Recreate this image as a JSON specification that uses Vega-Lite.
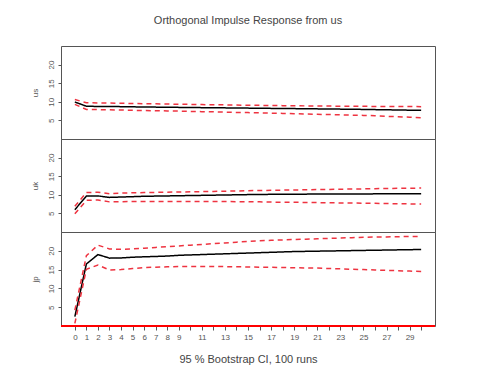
{
  "$schema": "https://vega.github.io/schema/vega-lite/v6.json",
  "padding": {"left": 30, "top": 14, "right": 5, "bottom": 5},
  "spacing": 0,
  "bounds": "flush",
  "background": "white",
  "config": {
    "font": "Liberation Sans",
    "view": {"stroke": "#555555", "strokeWidth": 1},
    "axis": {"grid": false, "domain": false, "tickColor": "#555555", "labelColor": "#555555", "titleColor": "#555555", "labelFont": "Liberation Sans", "titleFont": "Liberation Sans", "titleFontWeight": "normal"}
  },
  "data": {"values": [
    {"v":"us","h":0,"irf":9.95,"lower":9.3,"upper":10.6},
    {"v":"us","h":1,"irf":8.8,"lower":7.95,"upper":9.75},
    {"v":"us","h":2,"irf":8.75,"lower":7.9,"upper":9.7},
    {"v":"us","h":3,"irf":8.72,"lower":7.85,"upper":9.65},
    {"v":"us","h":4,"irf":8.7,"lower":7.8,"upper":9.6},
    {"v":"us","h":5,"irf":8.65,"lower":7.7,"upper":9.55},
    {"v":"us","h":6,"irf":8.6,"lower":7.65,"upper":9.5},
    {"v":"us","h":7,"irf":8.57,"lower":7.6,"upper":9.45},
    {"v":"us","h":8,"irf":8.53,"lower":7.55,"upper":9.4},
    {"v":"us","h":9,"irf":8.5,"lower":7.5,"upper":9.35},
    {"v":"us","h":10,"irf":8.47,"lower":7.42,"upper":9.3},
    {"v":"us","h":11,"irf":8.43,"lower":7.35,"upper":9.25},
    {"v":"us","h":12,"irf":8.4,"lower":7.3,"upper":9.2},
    {"v":"us","h":13,"irf":8.37,"lower":7.22,"upper":9.17},
    {"v":"us","h":14,"irf":8.33,"lower":7.15,"upper":9.12},
    {"v":"us","h":15,"irf":8.3,"lower":7.1,"upper":9.08},
    {"v":"us","h":16,"irf":8.27,"lower":7.02,"upper":9.05},
    {"v":"us","h":17,"irf":8.23,"lower":6.95,"upper":9.0},
    {"v":"us","h":18,"irf":8.2,"lower":6.88,"upper":8.97},
    {"v":"us","h":19,"irf":8.17,"lower":6.8,"upper":8.94},
    {"v":"us","h":20,"irf":8.13,"lower":6.72,"upper":8.9},
    {"v":"us","h":21,"irf":8.1,"lower":6.65,"upper":8.88},
    {"v":"us","h":22,"irf":8.07,"lower":6.57,"upper":8.85},
    {"v":"us","h":23,"irf":8.03,"lower":6.5,"upper":8.82},
    {"v":"us","h":24,"irf":8.0,"lower":6.42,"upper":8.8},
    {"v":"us","h":25,"irf":7.95,"lower":6.35,"upper":8.78},
    {"v":"us","h":26,"irf":7.9,"lower":6.25,"upper":8.76},
    {"v":"us","h":27,"irf":7.85,"lower":6.1,"upper":8.74},
    {"v":"us","h":28,"irf":7.8,"lower":6.0,"upper":8.72},
    {"v":"us","h":29,"irf":7.75,"lower":5.85,"upper":8.71},
    {"v":"us","h":30,"irf":7.7,"lower":5.7,"upper":8.7},
    {"v":"uk","h":0,"irf":6.0,"lower":4.9,"upper":6.9},
    {"v":"uk","h":1,"irf":9.65,"lower":8.5,"upper":10.6},
    {"v":"uk","h":2,"irf":9.7,"lower":8.6,"upper":10.7},
    {"v":"uk","h":3,"irf":9.3,"lower":8.1,"upper":10.3},
    {"v":"uk","h":4,"irf":9.4,"lower":8.15,"upper":10.45},
    {"v":"uk","h":5,"irf":9.5,"lower":8.2,"upper":10.55},
    {"v":"uk","h":6,"irf":9.6,"lower":8.2,"upper":10.6},
    {"v":"uk","h":7,"irf":9.65,"lower":8.2,"upper":10.65},
    {"v":"uk","h":8,"irf":9.7,"lower":8.22,"upper":10.7},
    {"v":"uk","h":9,"irf":9.75,"lower":8.22,"upper":10.75},
    {"v":"uk","h":10,"irf":9.8,"lower":8.22,"upper":10.8},
    {"v":"uk","h":11,"irf":9.85,"lower":8.2,"upper":10.85},
    {"v":"uk","h":12,"irf":9.9,"lower":8.2,"upper":10.9},
    {"v":"uk","h":13,"irf":9.95,"lower":8.18,"upper":10.97},
    {"v":"uk","h":14,"irf":10.0,"lower":8.15,"upper":11.03},
    {"v":"uk","h":15,"irf":10.05,"lower":8.12,"upper":11.1},
    {"v":"uk","h":16,"irf":10.1,"lower":8.1,"upper":11.15},
    {"v":"uk","h":17,"irf":10.12,"lower":8.05,"upper":11.2},
    {"v":"uk","h":18,"irf":10.14,"lower":8.0,"upper":11.25},
    {"v":"uk","h":19,"irf":10.16,"lower":7.98,"upper":11.3},
    {"v":"uk","h":20,"irf":10.18,"lower":7.95,"upper":11.35},
    {"v":"uk","h":21,"irf":10.2,"lower":7.9,"upper":11.4},
    {"v":"uk","h":22,"irf":10.21,"lower":7.85,"upper":11.45},
    {"v":"uk","h":23,"irf":10.22,"lower":7.82,"upper":11.5},
    {"v":"uk","h":24,"irf":10.23,"lower":7.8,"upper":11.55},
    {"v":"uk","h":25,"irf":10.24,"lower":7.75,"upper":11.6},
    {"v":"uk","h":26,"irf":10.25,"lower":7.7,"upper":11.65},
    {"v":"uk","h":27,"irf":10.26,"lower":7.65,"upper":11.7},
    {"v":"uk","h":28,"irf":10.27,"lower":7.6,"upper":11.73},
    {"v":"uk","h":29,"irf":10.28,"lower":7.55,"upper":11.77},
    {"v":"uk","h":30,"irf":10.3,"lower":7.5,"upper":11.8},
    {"v":"jp","h":0,"irf":2.5,"lower":0.7,"upper":4.2},
    {"v":"jp","h":1,"irf":16.5,"lower":15.1,"upper":18.7},
    {"v":"jp","h":2,"irf":19.0,"lower":16.2,"upper":21.5},
    {"v":"jp","h":3,"irf":18.05,"lower":14.9,"upper":20.5},
    {"v":"jp","h":4,"irf":18.1,"lower":15.0,"upper":20.4},
    {"v":"jp","h":5,"irf":18.3,"lower":15.3,"upper":20.5},
    {"v":"jp","h":6,"irf":18.4,"lower":15.5,"upper":20.7},
    {"v":"jp","h":7,"irf":18.5,"lower":15.65,"upper":20.9},
    {"v":"jp","h":8,"irf":18.6,"lower":15.75,"upper":21.1},
    {"v":"jp","h":9,"irf":18.8,"lower":15.8,"upper":21.3},
    {"v":"jp","h":10,"irf":18.9,"lower":15.85,"upper":21.5},
    {"v":"jp","h":11,"irf":19.0,"lower":15.85,"upper":21.7},
    {"v":"jp","h":12,"irf":19.1,"lower":15.85,"upper":21.9},
    {"v":"jp","h":13,"irf":19.2,"lower":15.8,"upper":22.1},
    {"v":"jp","h":14,"irf":19.3,"lower":15.75,"upper":22.3},
    {"v":"jp","h":15,"irf":19.4,"lower":15.7,"upper":22.5},
    {"v":"jp","h":16,"irf":19.5,"lower":15.65,"upper":22.65},
    {"v":"jp","h":17,"irf":19.6,"lower":15.6,"upper":22.8},
    {"v":"jp","h":18,"irf":19.7,"lower":15.55,"upper":22.9},
    {"v":"jp","h":19,"irf":19.8,"lower":15.5,"upper":23.0},
    {"v":"jp","h":20,"irf":19.85,"lower":15.45,"upper":23.1},
    {"v":"jp","h":21,"irf":19.9,"lower":15.4,"upper":23.2},
    {"v":"jp","h":22,"irf":19.95,"lower":15.3,"upper":23.3},
    {"v":"jp","h":23,"irf":20.0,"lower":15.2,"upper":23.4},
    {"v":"jp","h":24,"irf":20.05,"lower":15.1,"upper":23.5},
    {"v":"jp","h":25,"irf":20.1,"lower":15.0,"upper":23.6},
    {"v":"jp","h":26,"irf":20.15,"lower":14.9,"upper":23.65},
    {"v":"jp","h":27,"irf":20.2,"lower":14.8,"upper":23.7},
    {"v":"jp","h":28,"irf":20.25,"lower":14.7,"upper":23.75},
    {"v":"jp","h":29,"irf":20.3,"lower":14.6,"upper":23.8},
    {"v":"jp","h":30,"irf":20.35,"lower":14.5,"upper":23.85}
  ]},
  "vconcat": [
    {
      "width": 374, "height": 93,
      "title": {"text": "Orthogonal Impulse Response from us", "fontSize": 11, "fontWeight": "normal", "color": "#444444", "anchor": "middle", "frame": "group", "offset": 20, "font": "Liberation Sans"},
      "transform": [{"filter": "datum.v == 'us'"}, {"fold": ["irf", "lower", "upper"], "as": ["series", "val"]}],
      "mark": {"type": "line", "strokeWidth": 1.5},
      "encoding": {
        "x": {"field": "h", "type": "quantitative", "scale": {"domain": [-1.2, 31.2], "nice": false, "zero": false}, "axis": null},
        "y": {"field": "val", "type": "quantitative", "scale": {"domain": [0, 25], "nice": false, "zero": false}, "axis": {"values": [5, 10, 15, 20], "labelOverlap": false, "labelAngle": 270, "labelAlign": "center", "labelBaseline": "bottom", "labelFontSize": 8, "tickSize": 3, "labelPadding": 3, "title": "us", "titleFontSize": 8, "titlePadding": 8}},
        "color": {"field": "series", "type": "nominal", "scale": {"domain": ["irf", "lower", "upper"], "range": ["black", "#ee3340", "#ee3340"]}, "legend": null},
        "strokeDash": {"field": "series", "type": "nominal", "scale": {"domain": ["irf", "lower", "upper"], "range": [[1, 0], [5, 4], [5, 4]]}, "legend": null}
      }
    },
    {
      "width": 374, "height": 93,
      "transform": [{"filter": "datum.v == 'uk'"}, {"fold": ["irf", "lower", "upper"], "as": ["series", "val"]}],
      "mark": {"type": "line", "strokeWidth": 1.5},
      "encoding": {
        "x": {"field": "h", "type": "quantitative", "scale": {"domain": [-1.2, 31.2], "nice": false, "zero": false}, "axis": null},
        "y": {"field": "val", "type": "quantitative", "scale": {"domain": [0, 25], "nice": false, "zero": false}, "axis": {"values": [5, 10, 15, 20], "labelOverlap": false, "labelAngle": 270, "labelAlign": "center", "labelBaseline": "bottom", "labelFontSize": 8, "tickSize": 3, "labelPadding": 3, "title": "uk", "titleFontSize": 8, "titlePadding": 8}},
        "color": {"field": "series", "type": "nominal", "scale": {"domain": ["irf", "lower", "upper"], "range": ["black", "#ee3340", "#ee3340"]}, "legend": null},
        "strokeDash": {"field": "series", "type": "nominal", "scale": {"domain": ["irf", "lower", "upper"], "range": [[1, 0], [5, 4], [5, 4]]}, "legend": null}
      }
    },
    {
      "width": 374, "height": 94,
      "transform": [{"filter": "datum.v == 'jp'"}, {"fold": ["irf", "lower", "upper"], "as": ["series", "val"]}],
      "encoding": {
        "x": {"field": "h", "type": "quantitative", "scale": {"domain": [-1.2, 31.2], "nice": false, "zero": false}, "axis": {"values": [0,1,2,3,4,5,6,7,8,9,10,11,12,13,14,15,16,17,18,19,20,21,22,23,24,25,26,27,28,29,30], "labelExpr": "datum.value < 10 || datum.value % 2 == 1 ? datum.label : ''", "labelAngle": 0, "labelFontSize": 8, "tickSize": 4, "labelPadding": 3, "title": "95 % Bootstrap CI,  100 runs", "titleFontSize": 11, "titlePadding": 12, "titleColor": "#444444", "labelOverlap": false, "labelFlush": false}},
        "y": {"field": "val", "type": "quantitative", "scale": {"domain": [0, 25], "nice": false, "zero": false}, "axis": {"values": [5, 10, 15, 20], "labelOverlap": false, "labelAngle": 270, "labelAlign": "center", "labelBaseline": "bottom", "labelFontSize": 8, "tickSize": 3, "labelPadding": 3, "title": "jp", "titleFontSize": 8, "titlePadding": 8}}
      },
      "layer": [
        {
          "mark": {"type": "line", "strokeWidth": 1.5},
          "encoding": {
            "color": {"field": "series", "type": "nominal", "scale": {"domain": ["irf", "lower", "upper"], "range": ["black", "#ee3340", "#ee3340"]}, "legend": null},
            "strokeDash": {"field": "series", "type": "nominal", "scale": {"domain": ["irf", "lower", "upper"], "range": [[1, 0], [5, 4], [5, 4]]}, "legend": null}
          }
        },
        {
          "mark": {"type": "rule", "color": "red", "strokeWidth": 1.5},
          "encoding": {"y": {"datum": 0, "type": "quantitative", "scale": {"domain": [0, 25], "nice": false, "zero": false}, "axis": {"values": [5, 10, 15, 20], "labelOverlap": false, "labelAngle": 270, "labelAlign": "center", "labelBaseline": "bottom", "labelFontSize": 8, "tickSize": 3, "labelPadding": 3, "title": "jp", "titleFontSize": 8, "titlePadding": 8}}, "x": {"value": 0}, "x2": {"value": 374}}
        }
      ]
    }
  ]
}
